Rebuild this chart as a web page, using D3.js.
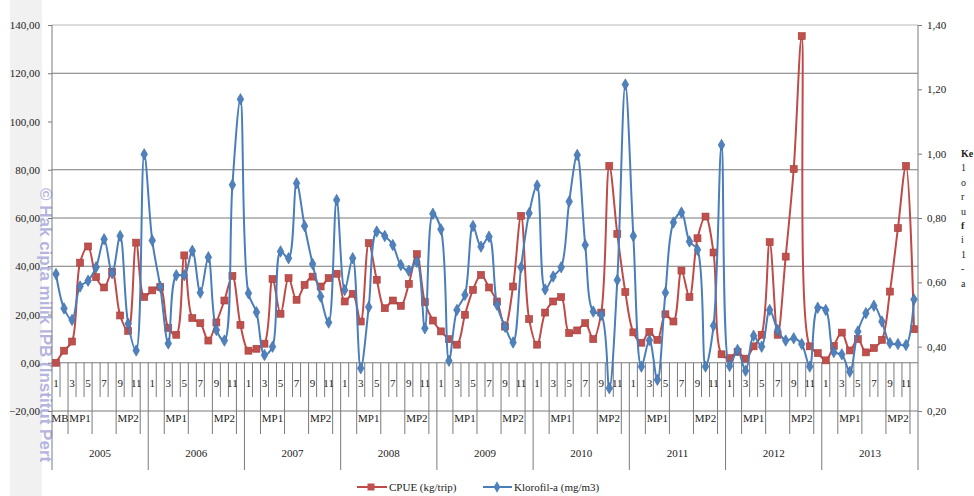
<!DOCTYPE html>
<html lang="id">
<head>
<meta charset="utf-8">
<title>CPUE dan Klorofil-a</title>
<script src="https://cdn.jsdelivr.net/npm/d3@7"></script>
<style>
body { margin: 0; background: #fff; }
text { font-family: "Liberation Serif", "DejaVu Serif", serif; fill: #222; }
.wm { font-family: "Liberation Sans", Arial, sans-serif; font-weight: bold; fill: #b4b4de; }
</style>
</head>
<body>
<script>

/* data */
var years = ["2005","2006","2007","2008","2009","2010","2011","2012","2013"];
var months = [1,2,3,4,5,6,7,8,9,10,11,12];

var cpue = [
  0, 5.0, 8.8, 41.5, 48.2, 35.5, 31.2, 37.7, 19.6, 13.2, 49.8, 27.3,
  30.0, 31.4, 14.4, 11.6, 44.5, 18.5, 16.4, 9.2, 16.7, 25.8, 36.0, 15.7,
  5.0, 5.8, 7.9, 34.7, 20.3, 35.1, 26.1, 32.3, 35.7, 31.6, 35.1, 36.9,
  25.4, 28.6, 17.1, 49.6, 34.4, 22.6, 25.8, 23.6, 32.7, 45.0, 25.1, 17.5,
  13.0, 9.8, 7.5, 19.9, 30.2, 36.4, 31.2, 25.4, 15.0, 31.6, 60.9, 18.1,
  7.5, 20.8, 25.4, 27.2, 12.3, 13.4, 16.4, 9.8, 20.8, 81.6, 53.4, 29.3,
  12.6, 8.3, 12.8, 9.5, 20.1, 17.1, 38.2, 27.2, 51.6, 60.6, 45.7, 3.5,
  1.9, 4.5, 1.7, 6.8, 11.6, 50.0, 11.6, 44.0, 80.3, 135.4, 6.8, 4.0,
  1.0, 7.0, 12.5, 5.1, 9.8, 4.3, 6.1, 9.5, 29.5, 55.8, 81.6, 13.9
];

var klorofil = [
  0.626, 0.519, 0.483, 0.587, 0.605, 0.647, 0.734, 0.628, 0.744, 0.471, 0.388, 0.998,
  0.730, 0.586, 0.410, 0.622, 0.622, 0.698, 0.568, 0.678, 0.452, 0.419, 0.903, 1.169,
  0.566, 0.507, 0.374, 0.400, 0.696, 0.675, 0.908, 0.775, 0.657, 0.556, 0.475, 0.856,
  0.576, 0.675, 0.333, 0.523, 0.758, 0.744, 0.716, 0.654, 0.636, 0.664, 0.457, 0.813,
  0.765, 0.356, 0.514, 0.561, 0.775, 0.711, 0.742, 0.530, 0.462, 0.413, 0.647, 0.815,
  0.901, 0.578, 0.618, 0.647, 0.851, 0.996, 0.716, 0.509, 0.499, 0.271, 0.607, 1.215,
  0.744, 0.338, 0.420, 0.297, 0.568, 0.786, 0.817, 0.727, 0.701, 0.338, 0.465, 1.027,
  0.340, 0.390, 0.325, 0.434, 0.400, 0.514, 0.452, 0.419, 0.426, 0.408, 0.338, 0.521,
  0.514, 0.383, 0.376, 0.322, 0.447, 0.504, 0.527, 0.478, 0.411, 0.408, 0.405, 0.547
];

/* season groups inside a year: [first month index, last month index + 1, label] */
var seasons = [[0,2,""],[2,5,"MP1"],[5,8,""],[8,11,"MP2"],[11,12,""]];
var firstSeasonLabel = "MB";

var leftTicks = [140,120,100,80,60,40,20,0,-20];
var rightTicks = [1.4,1.2,1.0,0.8,0.6,0.4,0.2];
var gridValues = [140,120,80,60,40,-20];

var sideText = ["Ke","1","o","r","u","f","i","1","-","a"];

var W = 974, H = 496;
var svg = d3.select("body").append("svg")
  .attr("width", W)
  .attr("height", H);

var x0 = 52, x1 = 918, yTop = 25, yBot = 411;

var n = cpue.length;
var x = d3.scaleBand().domain(d3.range(n)).range([x0, x1]);
var bw = x.bandwidth();
function cx(i) { return x(i) + bw / 2; }

var yL = d3.scaleLinear().domain([-20, 140]).range([yBot, yTop]);
var yR = d3.scaleLinear().domain([0.2, 1.4]).range([yBot, yTop]);

/* watermark band on the left */
svg.append("rect").attr("x", 10).attr("y", 0).attr("width", 32).attr("height", H)
  .attr("fill", "#f1f1f1");
svg.append("text").attr("class", "wm")
  .attr("transform", "translate(40,188) rotate(90)")
  .style("font-size", "17px")
  .text("\u00a9 Hak cipta milik IPB (Institut Pert");

/* gridlines */
svg.selectAll(".grid").data(gridValues).enter().append("line")
  .attr("x1", x0).attr("x2", x1)
  .attr("y1", function(d){ return yL(d); })
  .attr("y2", function(d){ return yL(d); })
  .attr("stroke", function(d){ return d == 140 ? "#b8b8b8" : "#7a7a7a"; })
  .attr("stroke-width", 1);

/* left axis */
var axL = d3.axisLeft(yL).tickValues(leftTicks).tickSize(4)
  .tickFormat(function(d){ return d3.format(".2f")(d).replace(".", ","); });
var gL = svg.append("g").attr("transform", "translate(" + x0 + ",0)").call(axL);
gL.select(".domain").remove();
gL.selectAll("line").attr("stroke", "#7a7a7a");
gL.selectAll("text").attr("x", -12).style("font-size", "11px")
  .style("font-family", "Liberation Serif").attr("fill", "#333");

/* right axis */
var axR = d3.axisRight(yR).tickValues(rightTicks).tickSize(4)
  .tickFormat(function(d){ return d3.format(".2f")(d).replace(".", ","); });
var gR = svg.append("g").attr("transform", "translate(" + x1 + ",0)").call(axR);
gR.select(".domain").remove();
gR.selectAll("line").attr("stroke", "#7a7a7a");
gR.selectAll("text").attr("x", 9).style("font-size", "11px")
  .style("font-family", "Liberation Serif").attr("fill", "#333");

/* vertical axis lines, down through the category levels */
var yZero = yL(0);
svg.append("line").attr("x1", x0).attr("x2", x0).attr("y1", yTop).attr("y2", 470)
  .attr("stroke", "#7a7a7a");
svg.append("line").attr("x1", x1).attr("x2", x1).attr("y1", yTop).attr("y2", 470)
  .attr("stroke", "#7a7a7a");
svg.append("line").attr("x1", x0).attr("x2", x1).attr("y1", yZero).attr("y2", yZero)
  .attr("stroke", "#7a7a7a");

/* category boundaries: month, season, year */
var seasonEdges = seasons.map(function(s){ return s[0]; });
var bounds = d3.range(1, n);
svg.selectAll(".tk").data(bounds).enter().append("line")
  .attr("x1", function(d){ return x(d); })
  .attr("x2", function(d){ return x(d); })
  .attr("y1", yZero)
  .attr("y2", function(d){
    if (d % 12 == 0) return 470;
    if (seasonEdges.indexOf(d % 12) >= 0) return 434;
    return 397;
  })
  .attr("stroke", "#7a7a7a")
  .attr("stroke-width", 1);

/* month labels, every other month */
svg.selectAll(".ml").data(d3.range(n).filter(function(i){ return i % 2 == 0; }))
  .enter().append("text")
  .attr("x", function(d){ return cx(d); })
  .attr("y", 387)
  .attr("text-anchor", "middle")
  .style("font-size", "11px")
  .text(function(d){ return months[d % 12]; });

/* season labels */
var seasonLab = [];
years.forEach(function(yr, k){
  seasons.forEach(function(s, j){
    var lab = s[2];
    if (k == 0 && j == 0) lab = firstSeasonLabel;
    if (lab) seasonLab.push({ a: k * 12 + s[0], b: k * 12 + s[1], t: lab });
  });
});
svg.selectAll(".sl").data(seasonLab).enter().append("text")
  .attr("x", function(d){ return (x(d.a) + x(d.b - 1) + bw) / 2; })
  .attr("y", 422)
  .attr("text-anchor", "middle")
  .style("font-size", "11px")
  .text(function(d){ return d.t; });

/* year labels */
svg.selectAll(".yl").data(years).enter().append("text")
  .attr("x", function(d, k){ return (x(k * 12) + x(k * 12 + 11) + bw) / 2; })
  .attr("y", 457)
  .attr("text-anchor", "middle")
  .style("font-size", "11px")
  .text(function(d){ return d; });

/* series lines */
var lineL = d3.line().x(function(d, i){ return cx(i); }).y(function(d){ return yL(d); })
  .curve(d3.curveCatmullRom.alpha(0.5));
var lineR = d3.line().x(function(d, i){ return cx(i); }).y(function(d){ return yR(d); })
  .curve(d3.curveCatmullRom.alpha(0.5));

var red = "#BE4B48", blue = "#4A7EBB";

svg.append("path").datum(cpue).attr("d", lineL)
  .attr("fill", "none").attr("stroke", red).attr("stroke-width", 2);
svg.selectAll(".sq").data(cpue).enter().append("rect")
  .attr("x", function(d, i){ return cx(i) - 3.5; })
  .attr("y", function(d){ return yL(d) - 3.5; })
  .attr("width", 7).attr("height", 7)
  .attr("fill", "#C0504D").attr("stroke", "#a53e3b").attr("stroke-width", 0.6);

svg.append("path").datum(klorofil).attr("d", lineR)
  .attr("fill", "none").attr("stroke", blue).attr("stroke-width", 2);
var diamond = d3.symbol().type(d3.symbolDiamond).size(38);
svg.selectAll(".dm").data(klorofil).enter().append("path")
  .attr("d", diamond)
  .attr("transform", function(d, i){ return "translate(" + cx(i) + "," + yR(d) + ")"; })
  .attr("fill", "#4F81BD").attr("stroke", "#3d6da5").attr("stroke-width", 0.6);

/* legend */
var lg = svg.append("g").attr("transform", "translate(0,487)");
lg.append("line").attr("x1", 357).attr("x2", 387).attr("y1", 0).attr("y2", 0)
  .attr("stroke", red).attr("stroke-width", 2);
lg.append("rect").attr("x", 367.5).attr("y", -3.5).attr("width", 7).attr("height", 7)
  .attr("fill", "#C0504D");
lg.append("text").attr("x", 389).attr("y", 4).style("font-size", "11px").text("CPUE (kg/trip)");
lg.append("line").attr("x1", 483).attr("x2", 512).attr("y1", 0).attr("y2", 0)
  .attr("stroke", blue).attr("stroke-width", 2);
lg.append("path").attr("d", diamond).attr("transform", "translate(497,0)")
  .attr("fill", "#4F81BD");
lg.append("text").attr("x", 514).attr("y", 4).style("font-size", "11px").text("Klorofil-a (mg/m3)");

/* cut-off text of the page at the right edge */
svg.selectAll(".side").data(sideText).enter().append("text")
  .attr("x", 961)
  .attr("y", function(d, i){ return 157 + i * 14.4; })
  .style("font-size", "10px")
  .style("font-weight", function(d, i){ return (i == 0 || i == 5) ? "bold" : "normal"; })
  .text(function(d){ return d; });

</script>
</body>
</html>
